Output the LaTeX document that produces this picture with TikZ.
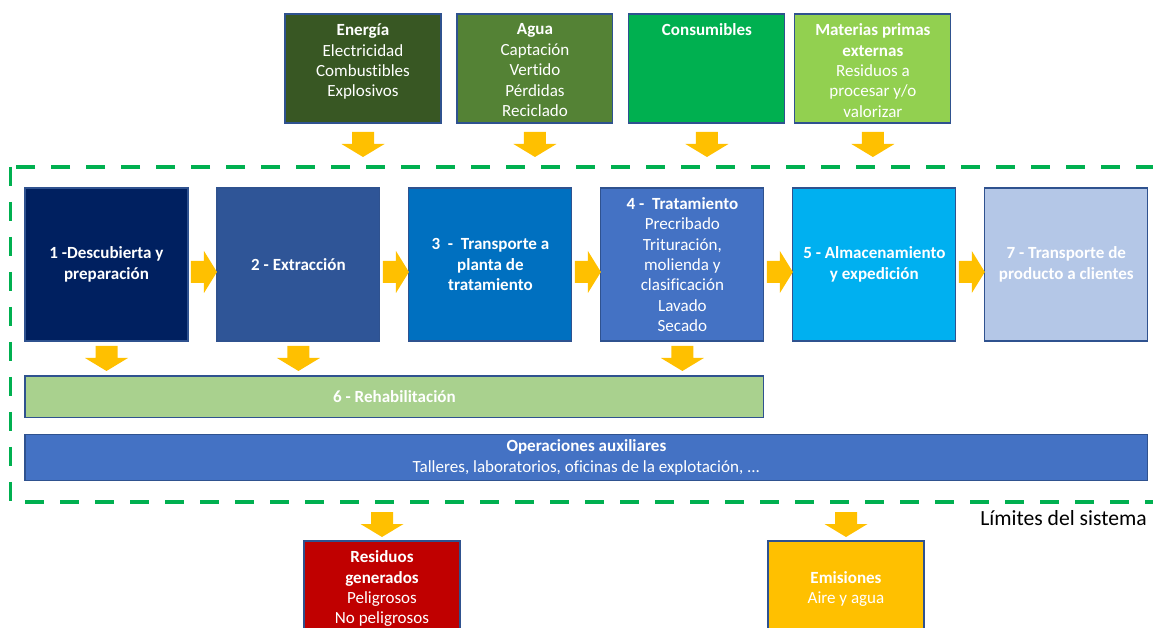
\documentclass[tikz,border=0pt]{standalone}
\usepackage{fontspec}
\setmainfont[Ligatures=NoCommon]{Carlito}
\usetikzlibrary{positioning}

\definecolor{energia}{HTML}{385723}
\definecolor{agua}{HTML}{548235}
\definecolor{consum}{HTML}{00B050}
\definecolor{materias}{HTML}{92D050}
\definecolor{fase1}{HTML}{002060}
\definecolor{fase2}{HTML}{2F5597}
\definecolor{fase3}{HTML}{0070C0}
\definecolor{fase4}{HTML}{4472C4}
\definecolor{fase5}{HTML}{00B0F0}
\definecolor{fase7}{HTML}{B4C7E7}
\definecolor{rehabc}{HTML}{A9D18E}
\definecolor{residuosc}{HTML}{C00000}
\definecolor{emisionesc}{HTML}{FFC000}
\definecolor{flecha}{HTML}{FFC000}
\definecolor{borde}{HTML}{2F528F}
\definecolor{verde}{HTML}{00B050}

\begin{document}
\begin{tikzpicture}[x=0.02cm, y=-0.02cm,
  fase/.style={
    % The shape:
    rectangle,
    % The size:
    minimum width=3.26cm, minimum height=3.06cm, outer sep=0pt,
    % The border
    draw=borde, line width=.6pt,
    % The text
    inner sep=0pt, align=center, text=white,
    font=\fontsize{9.7}{11.6}\selectfont\bfseries},
  flujo/.style={
    rectangle, minimum width=3.12cm, minimum height=2.18cm, outer sep=0pt,
    draw=borde, line width=.6pt},
  texto/.style={inner sep=0pt, align=center, text=white,
    font=\fontsize{9.7}{11.6}\selectfont},
  limite/.style={draw=verde, line width=0.08cm,
    dash pattern=on 0.38cm off 0.32cm},
  pics/abajo/.style={code={
    \fill[flecha] (-11,0) -- (11,0) -- (11,12) -- (21.5,12) -- (0,25)
      -- (-21.5,12) -- (-11,12) -- cycle;}},
  pics/derecha/.style={code={
    \fill[flecha] (0,-11) -- (13,-11) -- (13,-21) -- (26,0) -- (13,21)
      -- (13,11) -- (0,11) -- cycle;}}]

    \useasboundingbox (0,0) rectangle (1153,628);

    % entradas
    \node[flujo, fill=energia] (energia) at (363,68.5) {};
    \node[flujo, fill=agua, right=0.32cm of energia] (agua) {};
    \node[flujo, fill=consum, right=0.32cm of agua] (consum) {};
    \node[flujo, fill=materias, right=0.2cm of consum] (materias) {};

    \node[texto, below=0.19cm of energia.north] (energia-t)
      {\textbf{Energía}\\Electricidad\\Combustibles\\Explosivos};
    \node[texto, below=0.19cm of agua.north] (agua-t)
      {\textbf{Agua}\\Captación\\Vertido\\Pérdidas\\Reciclado};
    \node[texto, below=0.19cm of consum.north] (consum-t)
      {\textbf{Consumibles}};
    \node[texto, below=0.19cm of materias.north] (materias-t)
      {\textbf{Materias primas}\\\textbf{externas}\\Residuos a\\procesar y/o\\valorizar};

    \coordinate (entrada) at (0,132);
    \foreach \a in {energia,agua,consum,materias}
      \path (\a.south |- entrada) pic {abajo};

    % limites del sistema
    \draw[limite] (10.5,167) rectangle (1175,502);

    % fases
    \node[fase, fill=fase1] (f1) at (106.5,264.5) {1 -Descubierta y\\preparación};
    \node[fase, fill=fase2, right=0.58cm of f1] (f2) {2 - Extracción};
    \node[fase, fill=fase3, right=0.58cm of f2] (f3)
      {3~ -~ Transporte a\\planta de\\tratamiento};
    \node[fase, fill=fase4, right=0.58cm of f3, font=\fontsize{9.7}{11.6}\selectfont] (f4)
      {\textbf{4 -~ Tratamiento}\\Precribado\\Trituración,\\molienda y\\clasificación\\Lavado\\Secado};
    \node[fase, fill=fase5, right=0.58cm of f4] (f5) {5 - Almacenamiento\\y expedición};
    \node[fase, fill=fase7, right=0.58cm of f5] (f7) {7 - Transporte de\\producto a clientes};

    \coordinate (fila) at (0,272);
    \foreach \a in {f1,f2,f3,f4,f5}
      \path (\a.east |- fila) ++(3,0) pic {derecha};
    \foreach \a in {f1,f2,f4}
      \path (\a.south) ++(0,5) pic {abajo};

    \node[fase, fill=rehabc, minimum width=14.78cm, minimum height=0.83cm,
      below=0.7cm of f1.south west, anchor=north west] (rehab) {6 - Rehabilitación};
    \node[fase, fill=fase4, minimum width=22.46cm, minimum height=0.92cm,
      below=0.34cm of rehab.south west, anchor=north west,
      font=\fontsize{9.7}{11.6}\selectfont] (aux)
      {\textbf{Operaciones auxiliares}\\Talleres, laboratorios, oficinas de la explotación, ...};

    % salidas
    \coordinate (salida) at (0,512);
    \node[flujo, fill=residuosc, anchor=north] (residuos) at (382,541) {};
    \node[flujo, fill=emisionesc, anchor=north] (emisiones) at (846,541) {};
    \foreach \a in {residuos,emisiones}
      \path (\a.north |- salida) pic {abajo};

    \node[texto, below=0.19cm of residuos.north] (residuos-t)
      {\textbf{Residuos}\\\textbf{generados}\\Peligrosos\\No peligrosos};
    \node[texto, below=0.6cm of emisiones.north] (emisiones-t)
      {\textbf{Emisiones}\\Aire y agua};

    \node[anchor=base east, inner sep=0pt, font=\fontsize{12.3}{14}\selectfont]
      (limites) at (1147,525) {Límites del sistema};

\end{tikzpicture}
\end{document}
